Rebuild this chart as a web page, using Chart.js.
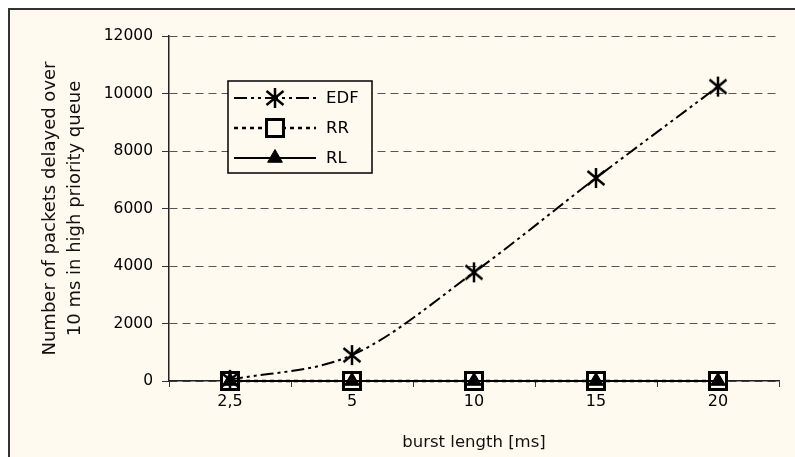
<!DOCTYPE html>
<html>
<head>
<meta charset="utf-8">
<script src="https://cdn.jsdelivr.net/npm/chart.js@4.4.1/dist/chart.umd.min.js"></script>
<style>
  html, body { margin: 0; padding: 0; background: #fff; }
  #wrap { width: 795px; height: 457px; }
</style>
</head>
<body>
<div id="wrap"><canvas id="chart" width="795" height="457"></canvas></div>
<script>
// data
const burstLabels = ["2,5", "5", "10", "15", "20"];
const seriesNames = ["EDF", "RR", "RL"];
const edfValues = [40, 900, 3780, 7060, 10240];
const rrValues = [0, 0, 0, 0, 0];
const rlValues = [0, 0, 0, 0, 0];
const yMin = 0;
const yMax = 12000;
const yStep = 2000;

const cream = "#fffaf0";
const fontFamily = "'DejaVu Sans', Verdana, sans-serif";

// excel style asterisk marker: X with a vertical bar
function makeAsterisk(size) {
  const c = document.createElement("canvas");
  c.width = size;
  c.height = size;
  const g = c.getContext("2d");
  const m = size / 2;
  const r = size / 2 - 1;
  g.strokeStyle = "#000";
  g.lineWidth = 2.5;
  g.beginPath();
  g.moveTo(m, m - r);
  g.lineTo(m, m + r);
  g.moveTo(m - r * 0.85, m - r * 0.7);
  g.lineTo(m + r * 0.85, m + r * 0.7);
  g.moveTo(m + r * 0.85, m - r * 0.7);
  g.lineTo(m - r * 0.85, m + r * 0.7);
  g.stroke();
  return c;
}
const asterisk = makeAsterisk(22);

const frameBackground = {
  id: "frameBackground",
  beforeDraw(chart) {
    const ctx = chart.ctx;
    ctx.save();
    ctx.fillStyle = "#fff";
    ctx.fillRect(0, 0, chart.width, chart.height);
    ctx.fillStyle = cream;
    ctx.fillRect(8, 8, chart.width - 8, chart.height - 8);
    ctx.strokeStyle = "#333";
    ctx.lineWidth = 2;
    ctx.beginPath();
    ctx.moveTo(9, chart.height);
    ctx.lineTo(9, 9);
    ctx.lineTo(chart.width, 9);
    ctx.stroke();
    ctx.restore();
  },
};

// legend box drawn inside the plot like the excel one
const boxLegend = {
  id: "boxLegend",
  afterDraw(chart) {
    const ctx = chart.ctx;
    const box = { x: 228, y: 81, w: 144, h: 92 };
    const rows = [98, 128, 158];
    ctx.save();
    ctx.fillStyle = cream;
    ctx.fillRect(box.x, box.y, box.w, box.h);
    ctx.strokeStyle = "#000";
    ctx.lineWidth = 1.5;
    ctx.strokeRect(box.x, box.y, box.w, box.h);

    chart.data.datasets.forEach((ds, i) => {
      const y = rows[i];
      ctx.setLineDash(ds.borderDash || []);
      ctx.lineWidth = ds.borderWidth;
      ctx.strokeStyle = ds.borderColor;
      ctx.beginPath();
      ctx.moveTo(234, y);
      ctx.lineTo(316, y);
      ctx.stroke();
      ctx.setLineDash([]);

      if (ds.pointStyle instanceof HTMLCanvasElement) {
        ctx.drawImage(ds.pointStyle, 275 - ds.pointStyle.width / 2, y - ds.pointStyle.height / 2);
      } else {
        ctx.fillStyle = ds.pointBackgroundColor;
        ctx.strokeStyle = ds.pointBorderColor;
        ctx.lineWidth = ds.pointBorderWidth;
        Chart.helpers.drawPoint(ctx, {
          pointStyle: ds.pointStyle,
          radius: ds.pointRadius,
          borderWidth: ds.pointBorderWidth,
          rotation: 0,
        }, 275, y);
      }

      ctx.fillStyle = "#000";
      ctx.font = "16.5px " + fontFamily;
      ctx.textAlign = "left";
      ctx.textBaseline = "middle";
      ctx.fillText(ds.label, 326, y + 1);
    });
    ctx.restore();
  },
};

const ctx = document.getElementById("chart");
const chart = new Chart(ctx, {
  type: "line",
  data: {
    labels: burstLabels,
    datasets: [
      {
        label: seriesNames[0],
        data: edfValues,
        borderColor: "#000",
        borderWidth: 2,
        borderDash: [13, 4, 3, 4, 3, 4],
        cubicInterpolationMode: "monotone",
        pointStyle: asterisk,
        pointRadius: 10,
        order: 0,
        clip: false,
      },
      {
        label: seriesNames[1],
        data: rrValues,
        borderColor: "#000",
        borderWidth: 2.5,
        borderDash: [4, 4],
        pointStyle: "rect",
        pointRadius: 12,
        pointBorderWidth: 3,
        pointBorderColor: "#000",
        pointBackgroundColor: cream,
        order: 2,
        clip: false,
      },
      {
        label: seriesNames[2],
        data: rlValues,
        borderColor: "#000",
        borderWidth: 2,
        pointStyle: "triangle",
        pointRadius: 8.5,
        pointBorderWidth: 1,
        pointBorderColor: "#000",
        pointBackgroundColor: "#000",
        order: 1,
        clip: false,
      },
    ],
  },
  options: {
    responsive: false,
    animation: false,
    layout: {
      padding: { left: 0, top: 36, right: 16, bottom: 0 },
    },
    scales: {
      x: {
        offset: true,
        afterFit: function (scale) {
          scale.height = 76;
        },
        grid: {
          offset: true,
          drawOnChartArea: false,
          drawTicks: true,
          tickLength: 6,
          tickColor: "#333",
        },
        border: { color: "#222", width: 1.5 },
        ticks: {
          color: "#000",
          padding: 5,
          font: { family: fontFamily, size: 16 },
        },
        title: {
          display: true,
          text: "burst length [ms]",
          color: "#111",
          font: { family: fontFamily, size: 16.5 },
          padding: { top: 0, bottom: 4 },
        },
      },
      y: {
        min: yMin,
        max: yMax,
        afterFit: function (scale) {
          scale.width = 169;
        },
        grid: {
          color: "#555",
          lineWidth: 1,
          tickLength: 7,
          tickColor: "#333",
          tickBorderDash: [],
        },
        border: { color: "#222", width: 1.5, dash: [8, 5] },
        ticks: {
          stepSize: yStep,
          color: "#000",
          padding: 9,
          font: { family: fontFamily, size: 15.5 },
          callback: function (value) {
            return String(value);
          },
        },
        title: {
          display: true,
          text: ["Number of packets delayed over", "10 ms in high priority queue"],
          color: "#111",
          font: { family: fontFamily, size: 18, lineHeight: 1.4 },
          padding: { top: 38, bottom: 0 },
        },
      },
    },
    plugins: {
      legend: { display: false },
      tooltip: { enabled: false },
    },
  },
  plugins: [frameBackground, boxLegend],
});
</script>
</body>
</html>
